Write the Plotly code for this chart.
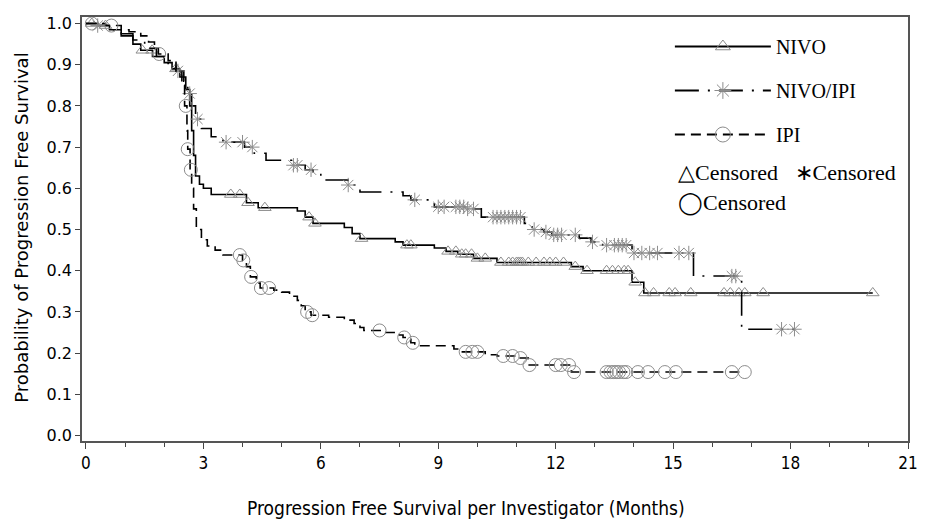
import numpy as np
import plotly.graph_objects as go

# ---------------- data ----------------
nivo_t = [0, 0.3, 0.6, 0.9, 1.2, 1.4, 1.7, 2.0, 2.2, 2.4, 2.55, 2.65, 2.7, 2.75, 2.8, 2.9, 3.0, 3.2,
          4.1, 4.4, 5.4, 5.6, 5.8, 6.6, 6.8, 7.0, 7.9, 8.1, 8.9, 9.2, 9.5, 9.9, 10.5, 12.4, 12.7,
          13.95, 14.25, 20.1]
nivo_s = [1.0, 0.995, 0.985, 0.97, 0.95, 0.935, 0.92, 0.905, 0.89, 0.87, 0.84, 0.80, 0.74, 0.68,
          0.63, 0.61, 0.60, 0.585, 0.565, 0.553, 0.545, 0.53, 0.515, 0.505, 0.49, 0.478, 0.47,
          0.462, 0.455, 0.447, 0.44, 0.43, 0.42, 0.41, 0.40, 0.372, 0.346, 0.346]
nivo_cens = [0.15, 0.5, 1.44, 1.69, 2.3, 3.7, 3.93, 4.14, 4.57, 5.7, 5.85, 7.04, 8.2, 8.3, 9.25,
             9.45, 9.6, 9.7, 9.85, 10.0, 10.2, 10.6, 10.8, 10.9, 11.0, 11.05, 11.1, 11.15, 11.3,
             11.5, 11.7, 11.85, 12.0, 12.2, 12.5, 12.8, 13.3, 13.45, 13.6, 13.75, 13.85, 14.03,
             14.28, 14.5, 14.9, 15.05, 15.45, 16.3, 16.46, 16.68, 16.83, 17.3, 20.1]

combo_t = [0, 0.3, 0.6, 0.9, 1.2, 1.5, 1.8, 2.1, 2.3, 2.5, 2.6, 2.7, 2.8, 2.95, 3.2, 3.5, 4.05,
           4.3, 4.6, 5.3, 5.6, 5.8, 6.0, 6.7, 7.0, 8.1, 8.3, 8.9, 9.7, 10.1, 11.2, 11.4, 11.7,
           11.9, 12.6, 12.9, 13.2, 13.95, 15.52, 16.75, 18.1]
combo_s = [1.0, 0.995, 0.985, 0.975, 0.96, 0.94, 0.92, 0.90, 0.885, 0.86, 0.83, 0.80, 0.768,
           0.745, 0.725, 0.712, 0.70, 0.685, 0.668, 0.656, 0.645, 0.636, 0.62, 0.608, 0.591,
           0.582, 0.572, 0.555, 0.55, 0.53, 0.515, 0.50, 0.494, 0.487, 0.479, 0.47, 0.462,
           0.443, 0.387, 0.258, 0.258]
combo_cens = [0.3, 2.35, 2.65, 2.85, 3.58, 4.0, 4.25, 5.3, 5.4, 5.75, 6.7, 8.4, 9.0, 9.15, 9.45,
              9.55, 9.65, 9.75, 9.9, 10.4, 10.5, 10.6, 10.7, 10.8, 10.9, 11.0, 11.1, 11.45,
              11.75, 11.95, 12.05, 12.15, 12.5, 12.94, 13.3, 13.5, 13.6, 13.7, 13.8, 14.0, 14.2,
              14.4, 14.6, 15.15, 15.4, 16.5, 16.6, 17.77, 18.1]

ipi_t = [0, 0.5, 0.9, 1.1, 1.4, 1.6, 1.75, 1.85, 2.1, 2.3, 2.45, 2.52, 2.58, 2.6, 2.66, 2.7,
         2.75, 2.82, 2.95, 3.1, 3.3, 3.5, 4.0, 4.1, 4.2, 4.35, 4.45, 4.8, 5.0, 5.2, 5.4, 5.5,
         5.6, 5.75, 6.2, 6.6, 6.85, 7.0, 7.1, 7.6, 7.9, 8.1, 8.3, 8.4, 9.4, 9.55, 10.2, 10.5,
         11.05, 11.3, 12.4, 16.83]
ipi_s = [1.0, 0.995, 0.985, 0.98, 0.97, 0.955, 0.94, 0.926, 0.91, 0.885, 0.85, 0.80, 0.74,
         0.695, 0.645, 0.60, 0.55, 0.50, 0.475, 0.46, 0.45, 0.438, 0.425, 0.41, 0.385, 0.37,
         0.358, 0.353, 0.348, 0.338, 0.328, 0.315, 0.30, 0.292, 0.287, 0.28, 0.272, 0.262,
         0.255, 0.25, 0.244, 0.238, 0.225, 0.218, 0.21, 0.203, 0.196, 0.193, 0.188, 0.171,
         0.154, 0.154]
ipi_cens = [0.15, 0.65, 1.87, 2.55, 2.6, 2.68, 3.93, 4.02, 4.22, 4.47, 4.68, 5.65, 5.78, 7.5,
            8.13, 8.35, 9.7, 9.87, 10.0, 10.66, 10.9, 11.1, 11.33, 12.0, 12.13, 12.34, 12.47,
            13.3, 13.4, 13.48, 13.55, 13.62, 13.73, 13.8, 14.1, 14.36, 14.79, 15.07, 16.5, 16.83]

x_ticks = [0, 3, 6, 9, 12, 15, 18, 21]
y_ticks = [0.0, 0.1, 0.2, 0.3, 0.4, 0.5, 0.6, 0.7, 0.8, 0.9, 1.0]


def step_at(times, surv, pts):
    idx = np.searchsorted(np.asarray(times), np.asarray(pts), side="right") - 1
    return np.asarray(surv)[idx]


series = [
    ("NIVO", nivo_t, nivo_s, nivo_cens, "solid", "triangle-up-open", 11),
    ("NIVO/IPI", combo_t, combo_s, combo_cens, "24px,9px,2px,9px", "asterisk-open", 12),
    ("IPI", ipi_t, ipi_s, ipi_cens, "10px,6px", "circle-open", 13),
]

MARK = "#8c8c8c"
fig = go.Figure()
for name, t, s, cens, dash, sym, msize in series:
    fig.add_trace(go.Scatter(
        x=t, y=s, mode="lines", line=dict(color="black", width=1.6, dash=dash, shape="hv"),
        showlegend=False, hoverinfo="skip"))
    fig.add_trace(go.Scatter(
        x=cens, y=step_at(t, s, cens), mode="markers",
        marker=dict(symbol=sym, size=msize, color=MARK, line=dict(color=MARK, width=1)),
        showlegend=False))
    # legend entry
    fig.add_trace(go.Scatter(
        x=[None], y=[None], mode="lines+markers", name=name, legendgroup=name,
        line=dict(color="black", width=2, dash=dash),
        marker=dict(symbol=sym, size=msize + 2, color=MARK, line=dict(color=MARK, width=1))))

PW, PH, L, T = 836, 424, 82, 17
fig.add_annotation(xref="paper", yref="paper", x=(683 - L) / PW, y=1 - (172 - T) / PH,
                   xanchor="left", yanchor="middle", showarrow=False,
                   text="\u25b3Censored   \u2217Censored",
                   font=dict(family="Liberation Serif", size=22, color="black"))
fig.add_annotation(xref="paper", yref="paper", x=(683 - L) / PW, y=1 - (203 - T) / PH,
                   xanchor="left", yanchor="middle", showarrow=False,
                   text="\u25efCensored",
                   font=dict(family="Liberation Serif", size=22, color="black"))
fig.add_annotation(xref="paper", yref="paper", x=(471 - L) / PW,
                   y=1 - (508 - T) / PH, xanchor="center", yanchor="middle", showarrow=False,
                   text="Progression Free Survival per Investigator (Months)",
                   font=dict(family="DejaVu Sans Condensed", size=19, color="black"))
fig.add_annotation(xref="paper", yref="paper", x=(20 - L) / PW, y=1 - (228 - T) / PH,
                   xanchor="center", yanchor="middle", showarrow=False, textangle=-90,
                   text="Probability of Progression Free Survival",
                   font=dict(family="DejaVu Sans", size=18, color="black"))

fig.update_layout(
    width=926, height=524,
    margin=dict(l=L, r=8, t=T, b=83),
    paper_bgcolor="white", plot_bgcolor="white",
    showlegend=True,
    legend=dict(x=(677 - L) / PW, y=1 - (27 - T) / PH, xanchor="left", yanchor="top",
                bgcolor="rgba(0,0,0,0)", traceorder="grouped", tracegroupgap=15,
                itemwidth=96,
                font=dict(family="Liberation Serif", size=20, color="black")),
)
fig.update_xaxes(
    range=[-0.101, 21.0], tickvals=x_ticks, ticktext=[str(v) for v in x_ticks],
    ticks="outside", ticklen=6, tickcolor="#444", showgrid=False, zeroline=False,
    showline=True, linecolor="#555", linewidth=1.5, mirror=True,
    tickfont=dict(family="DejaVu Sans Condensed", size=17, color="black"),
    minor=dict(dtick=1, tick0=0, ticks="outside", ticklen=4, tickcolor="#444"))
fig.update_yaxes(
    range=[-0.0133, 1.0158], tickvals=y_ticks, ticktext=[f"{v:.1f}" for v in y_ticks],
    ticks="outside", ticklen=5, tickcolor="#444", showgrid=False, zeroline=False,
    showline=True, linecolor="#555", linewidth=1.5, mirror=True,
    tickfont=dict(family="DejaVu Sans", size=16, color="black"))

fig.write_html("out.html", config={"displayModeBar": False},
               post_script="document.body.style.margin='0px'; document.body.style.overflow='hidden';")
